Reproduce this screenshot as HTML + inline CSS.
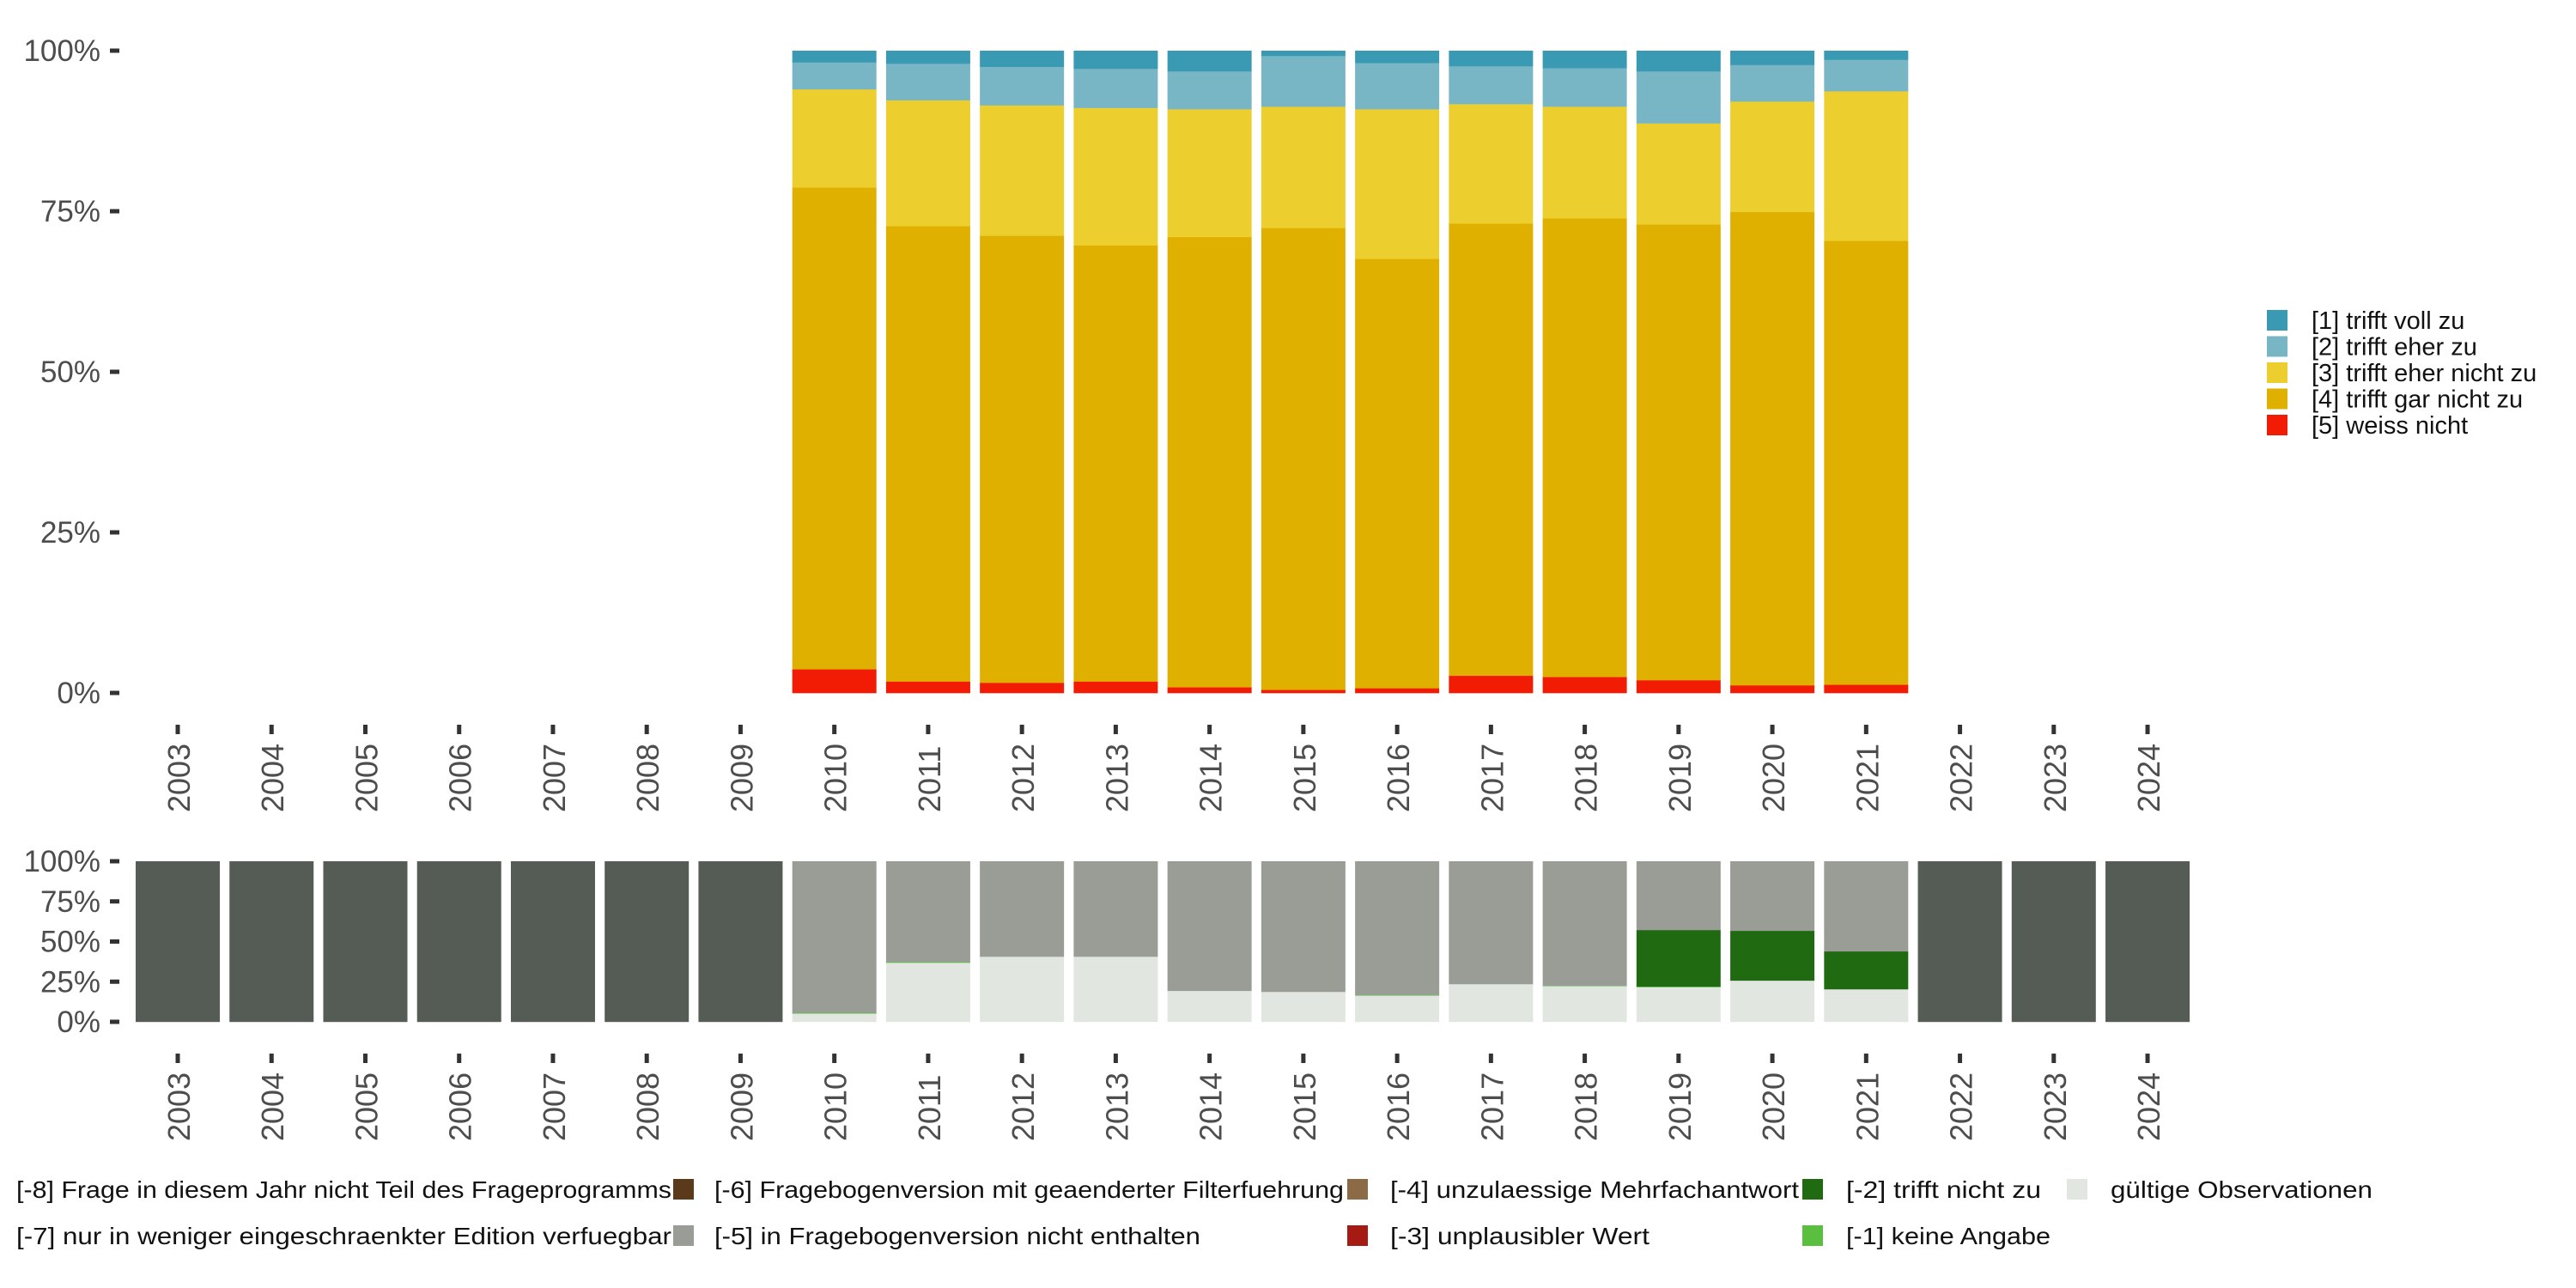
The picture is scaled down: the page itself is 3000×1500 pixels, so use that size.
<!DOCTYPE html>
<html><head><meta charset="utf-8"><style>
html,body{margin:0;padding:0;background:#fff;}
svg{display:block;font-family:"Liberation Sans","DejaVu Sans",sans-serif;}
</style></head><body>
<svg id="chart" width="3000" height="1500" viewBox="0 0 3000 1500" xmlns="http://www.w3.org/2000/svg">
<g id="topPanel"></g>
<g id="botPanel"></g>
<g id="leg"></g>
<g id="leg2"></g>
</svg>
<script>
const years = [2003,2004,2005,2006,2007,2008,2009,2010,2011,2012,2013,2014,2015,2016,2017,2018,2019,2020,2021,2022,2023,2024];
const topYears = [2010,2011,2012,2013,2014,2015,2016,2017,2018,2019,2020,2021];
const s5 = [3.7,1.8,1.6,1.8,0.9,0.5,0.75,2.7,2.5,2.0,1.2,1.3];
const s4 = [75.0,70.9,69.6,67.9,70.1,71.9,66.85,70.4,71.4,70.95,73.7,69.1];
const s3 = [15.3,19.6,20.3,21.4,19.9,18.9,23.3,18.6,17.4,15.75,17.2,23.3];
const s2 = [4.2,5.7,6.0,6.1,5.9,7.9,7.2,5.9,6.0,8.1,5.7,4.9];
const s1 = [1.8,2.0,2.5,2.8,3.2,0.8,1.9,2.4,2.7,3.2,2.2,1.4];
const topSeries = [s5,s4,s3,s2,s1];
const topColors = ['#f21b04','#e0b000','#ecce2e','#79b6c5','#3a9ab3'];
const topNames = ['[5] weiss nicht','[4] trifft gar nicht zu','[3] trifft eher nicht zu','[2] trifft eher zu','[1] trifft voll zu'];
const bValid = [0,0,0,0,0,0,0,5.2,36.8,40.6,40.6,19.3,18.7,16.4,23.5,22.3,21.6,25.7,20.3,0,0,0];
const bM1 = [0,0,0,0,0,0,0,0.5,0.5,0,0,0,0,0.4,0,0.3,0.4,0,0,0,0,0];
const bM2 = [0,0,0,0,0,0,0,0,0,0,0,0,0,0,0,0,35.2,31.0,23.6,0,0,0];
const bM8 = [100,100,100,100,100,100,100,0,0,0,0,0,0,0,0,0,0,0,0,100,100,100];
const botColors = ['#e1e6e0','#5abf3f','#206b12','#999d96','#545c55'];
const botNames = ['valid','keine-angabe','trifft-nicht-zu','nicht-enthalten','nicht-teil'];
const yTicks = [0,25,50,75,100];
const yTickLabels = ['0%','25%','50%','75%','100%'];

const NS='http://www.w3.org/2000/svg';
function mk(parent,tag,attrs){const e=document.createElementNS(NS,tag);for(const k in attrs)e.setAttribute(k,attrs[k]);parent.appendChild(e);return e;}
const xC = y => 207 + (y-2003)*109.24;
const BW = 98;
const yTop = p => 807 - p*7.48;
const yBot = p => 1190 - p*1.87;

function axes(g, yf, tickY0, panel){
  yTicks.forEach((t,i)=>{
    const tx=mk(g,'text',{x:117,y:yf(t)+12,'text-anchor':'end','font-size':35,fill:'#4d4d4d'});
    tx.textContent=yTickLabels[i];
    
    
    const l=mk(g,'rect',{x:128,y:yf(t)-2.5,width:11,height:5,fill:'#333'});
    
    
  });
  years.forEach(y=>{
    const x=xC(y);
    const l=mk(g,'rect',{x:x-2.5,y:tickY0,width:5,height:11,fill:'#333'});
    
    
    const ty=tickY0+102;
    const tx=mk(g,'text',{x:x+14,y:ty,'font-size':36,fill:'#4d4d4d',transform:`rotate(-90 ${x+14} ${ty})`});
    tx.textContent=y;
    
    
  });
}
const topG=document.getElementById('topPanel');
topYears.forEach((yr,i)=>{
  let cum=0;
  topSeries.forEach((s,k)=>{
    const v=s[i];
    const r=mk(topG,'rect',{x:xC(yr)-BW/2,y:yTop(cum+v),width:BW,height:yTop(cum)-yTop(cum+v)+0.3,fill:topColors[k]});
    
    
    cum+=v;
  });
});
axes(topG,yTop,844,'top');

const botG=document.getElementById('botPanel');
years.forEach((yr,i)=>{
  const m5 = Math.max(0,100-bValid[i]-bM1[i]-bM2[i]-bM8[i]);
  const vals=[bValid[i],bM1[i],bM2[i],m5,bM8[i]];
  let cum=0;
  vals.forEach((v,k)=>{
    if(v<=0)return;
    const r=mk(botG,'rect',{x:xC(yr)-BW/2,y:yBot(cum+v),width:BW,height:yBot(cum)-yBot(cum+v)+0.2,fill:botColors[k]});
    
    
    cum+=v;
  });
});
axes(botG,yBot,1227,'bottom');

const leg=document.getElementById('leg');
for(let k=4;k>=0;k--){
  const row=4-k, cy=373+row*30.5;
  const r=mk(leg,'rect',{x:2640,y:cy-12,width:24,height:24,fill:topColors[k]});
  
  
  const t=mk(leg,'text',{x:2692,y:cy+10,'font-size':29,fill:'#111'});
  t.textContent=topNames[k];
  
  
}

const leg2=document.getElementById('leg2');
const l2Text=[
 [19,1385,'[-8] Frage in diesem Jahr nicht Teil des Frageprogramms',763],
 [832,1385,'[-6] Fragebogenversion mit geaenderter Filterfuehrung',733],
 [1619,1385,'[-4] unzulaessige Mehrfachantwort',476],
 [2150,1385,'[-2] trifft nicht zu',227],
 [2458,1385,'gültige Observationen',305],
 [19,1439,'[-7] nur in weniger eingeschraenkter Edition verfuegbar',763],
 [832,1439,'[-5] in Fragebogenversion nicht enthalten',566],
 [1619,1439,'[-3] unplausibler Wert',302],
 [2150,1439,'[-1] keine Angabe',238]
];
l2Text.forEach(a=>{
  const t=mk(leg2,'text',{x:a[0],y:a[1]+10,'font-size':28,fill:'#111',textLength:a[3],lengthAdjust:'spacingAndGlyphs'});
  t.textContent=a[2];
  
  
});
const l2Keys=[[784,1385,'#5a3a1a'],[1569,1385,'#8c6a46'],[2099,1385,'#206b12'],[2407,1385,'#e1e6e0'],[784,1439,'#999d96'],[1569,1439,'#a51b13'],[2099,1439,'#5abf3f']];
l2Keys.forEach(a=>{
  const r=mk(leg2,'rect',{x:a[0],y:a[1]-12,width:24,height:24,fill:a[2]});
  
  
});
</script>
</body></html>
